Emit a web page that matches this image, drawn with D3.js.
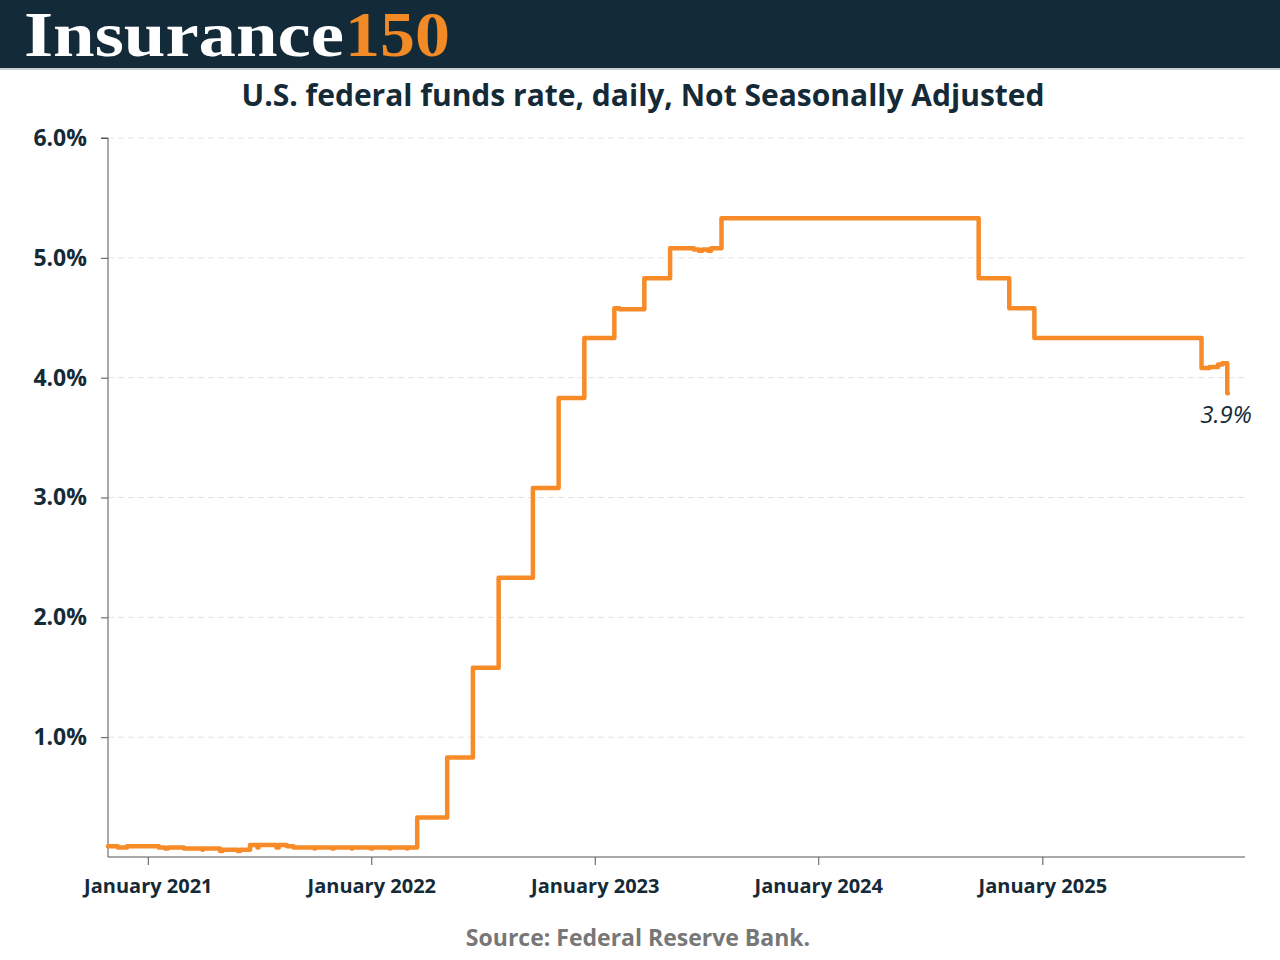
<!DOCTYPE html>
<html>
<head>
<meta charset="utf-8">
<script src="https://cdn.jsdelivr.net/npm/d3@7"></script>
<style>
  html, body { margin: 0; padding: 0; background: #ffffff; }
  svg { display: block; }
</style>
</head>
<body>
<svg id="chart" width="1280" height="960"></svg>
<script>
// ---- Data: effective federal funds rate change points (step-after) ----
const changeDates = [
  "2020-10-28","2020-11-13","2020-11-28","2021-01-19","2021-01-29","2021-02-03",
  "2021-03-01","2021-03-31","2021-04-01","2021-04-29","2021-05-03","2021-05-28","2021-06-01",
  "2021-06-17","2021-06-29","2021-07-01","2021-07-30","2021-08-03","2021-08-16","2021-08-27",
  "2021-09-30","2021-10-01","2021-10-29","2021-11-01","2021-11-30","2021-12-01",
  "2021-12-31","2022-01-03","2022-01-31","2022-02-01","2022-02-28","2022-03-01",
  "2022-03-17","2022-05-05","2022-06-16","2022-07-28","2022-09-22","2022-11-03","2022-12-15",
  "2023-02-02","2023-02-10","2023-03-23","2023-05-04","2023-06-12","2023-06-20","2023-06-26",
  "2023-07-05","2023-07-10","2023-07-27",
  "2024-09-19","2024-11-08","2024-12-19",
  "2025-09-18","2025-10-01","2025-10-15","2025-10-22","2025-10-30","2025-10-31"
];
const rateValues = [
  0.09,0.08,0.09,0.08,0.07,0.08,
  0.07,0.06,0.07,0.05,0.06,0.05,0.06,
  0.10,0.08,0.10,0.08,0.10,0.09,0.08,
  0.07,0.08,0.07,0.08,0.07,0.08,
  0.07,0.08,0.07,0.08,0.07,0.08,
  0.33,0.83,1.58,2.33,3.08,3.83,4.33,
  4.58,4.57,4.83,5.08,5.07,5.06,5.07,
  5.06,5.08,5.33,
  4.83,4.58,4.33,
  4.08,4.09,4.11,4.12,3.87,3.87
];
const yTickValues = [1, 2, 3, 4, 5, 6];
const xTickDates = ["2021-01-01","2022-01-01","2023-01-01","2024-01-01","2025-01-01"];
const xDomainDates = ["2020-10-28","2025-11-28"];

const titleText = "U.S. federal funds rate, daily, Not Seasonally Adjusted";
const sourceText = "Source: Federal Reserve Bank.";

// ---- Setup ----
const parse = d3.utcParse("%Y-%m-%d");
const data = changeDates.map((d, i) => ({ date: parse(d), value: rateValues[i] }));

const svg = d3.select("#chart");
const W = 1280, H = 960;
const m = { left: 108, right: 1245, top: 138, bottom: 857 };

const dark = "#152a37";
const orange = "#f68b27";

// Header band
svg.append("rect").attr("x", 0).attr("y", 0).attr("width", W).attr("height", 68).attr("fill", "#132a38");
svg.append("rect").attr("x", 0).attr("y", 68).attr("width", W).attr("height", 2).attr("fill", "#c9d1d6");

const logo = svg.append("g").attr("font-family", "'Liberation Serif', 'DejaVu Serif', serif").attr("font-weight", "bold");
logo.append("text").attr("x", 24).attr("y", 56).attr("font-size", 64).attr("fill", "#ffffff")
  .attr("textLength", 320).attr("lengthAdjust", "spacingAndGlyphs").text("Insurance");
logo.append("text").attr("x", 345).attr("y", 56).attr("font-size", 64).attr("fill", "#f28a26")
  .attr("textLength", 105).attr("lengthAdjust", "spacingAndGlyphs").text("150");

// Title
svg.append("text").attr("x", 643).attr("y", 106).attr("text-anchor", "middle")
  .attr("font-family", "'Open Sans', sans-serif").attr("font-weight", "bold").attr("font-size", 30)
  .attr("fill", dark).text(titleText);

// Scales
const x = d3.scaleUtc().domain(xDomainDates.map(parse)).range([m.left, m.right]);
const y = d3.scaleLinear().domain([0, 6]).range([m.bottom, m.top]);

// Gridlines
svg.append("g").selectAll("line").data(yTickValues).join("line")
  .attr("x1", m.left).attr("x2", m.right)
  .attr("y1", d => y(d)).attr("y2", d => y(d))
  .attr("stroke", "#e4e4e4").attr("stroke-width", 1).attr("stroke-dasharray", "6,4");

// Y axis
const yAxis = svg.append("g").attr("transform", `translate(${m.left},0)`)
  .call(d3.axisLeft(y).tickValues(yTickValues).tickSize(7).tickPadding(14)
    .tickFormat(d => d3.format(".1f")(d) + "%"));
yAxis.select(".domain").attr("stroke", "#555").attr("d", `M-7,${m.top}H0V${m.bottom}`);
yAxis.selectAll(".tick line").attr("stroke", "#555");
yAxis.selectAll(".tick text").attr("font-family", "'Open Sans', sans-serif").attr("font-weight", "bold")
  .attr("font-size", 23).attr("fill", dark);

// X axis
const xAxis = svg.append("g").attr("transform", `translate(0,${m.bottom})`)
  .call(d3.axisBottom(x).tickValues(xTickDates.map(parse)).tickSize(8).tickPadding(14)
    .tickFormat(d3.utcFormat("%B %Y")));
xAxis.select(".domain").attr("stroke", "#555").attr("d", `M${m.left},0H${m.right}`);
xAxis.selectAll(".tick line").attr("stroke", "#555");
xAxis.selectAll(".tick text").attr("font-family", "'Open Sans', sans-serif").attr("font-weight", "bold")
  .attr("font-size", 20).attr("fill", dark);

// Line
const line = d3.line().x(d => x(d.date)).y(d => y(d.value)).curve(d3.curveStepAfter);
svg.append("path").datum(data).attr("d", line)
  .attr("fill", "none").attr("stroke", orange).attr("stroke-width", 4.5)
  .attr("stroke-linejoin", "round").attr("stroke-linecap", "round");

// End label
const last = data[data.length - 1];
svg.append("text").attr("x", x(last.date) + 24).attr("y", y(last.value) + 30)
  .attr("text-anchor", "end")
  .attr("font-family", "'Open Sans', sans-serif").attr("font-style", "italic").attr("font-size", 24)
  .attr("fill", dark).text(d3.format(".1f")(last.value) + "%");

// Source
svg.append("text").attr("x", 638).attr("y", 946).attr("text-anchor", "middle")
  .attr("font-family", "'Open Sans', sans-serif").attr("font-weight", "bold").attr("font-size", 23)
  .attr("fill", "#777777").text(sourceText);
</script>
</body>
</html>
